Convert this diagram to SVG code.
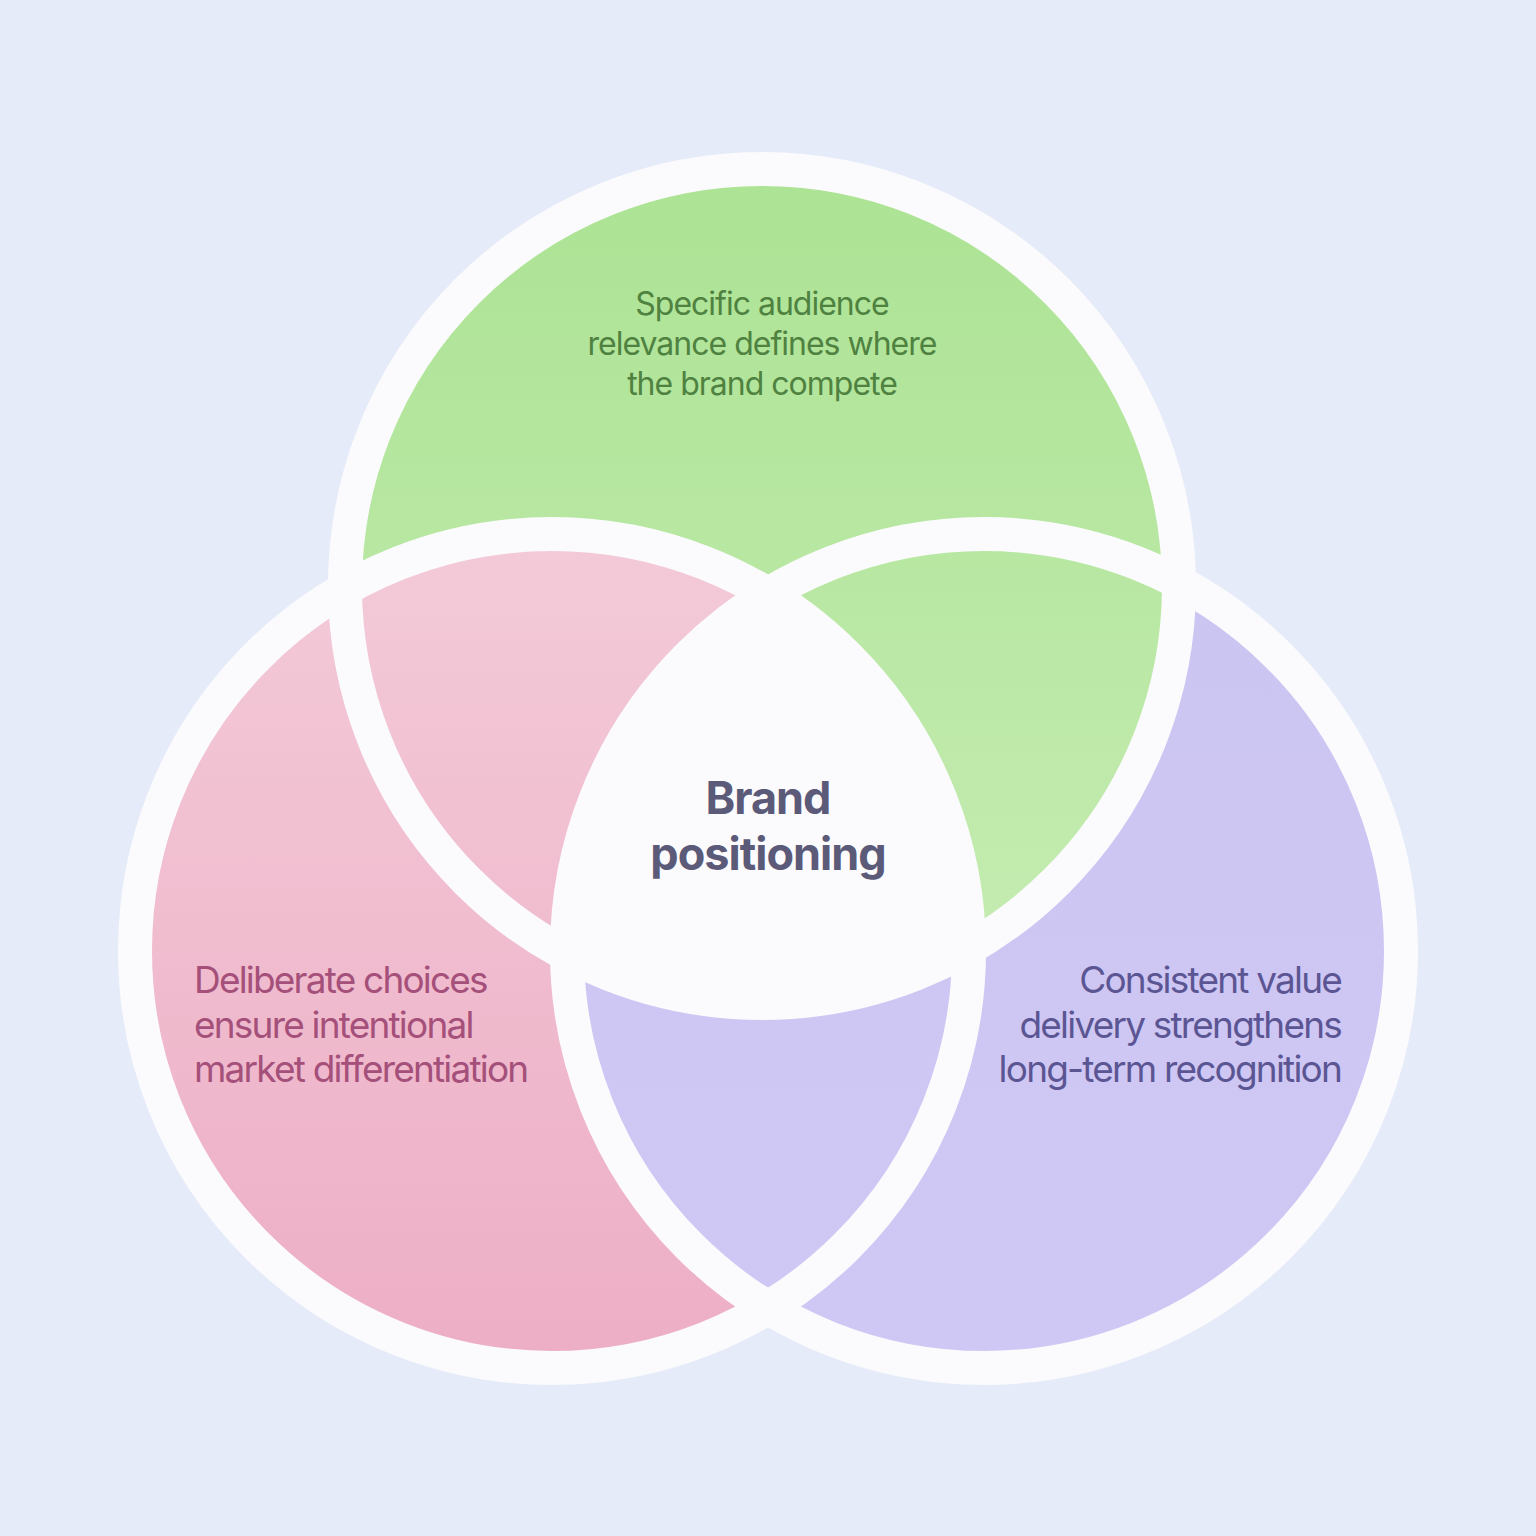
<svg xmlns="http://www.w3.org/2000/svg" width="1536" height="1536" viewBox="0 0 1536 1536">
<defs>
<linearGradient id="gG" x1="0" y1="0" x2="0" y2="1"><stop offset="0" stop-color="#ACE394"/><stop offset="1" stop-color="#C6ECB3"/></linearGradient>
<linearGradient id="gP" x1="0" y1="0" x2="0" y2="1"><stop offset="0" stop-color="#F3CAD8"/><stop offset="1" stop-color="#EDAEC5"/></linearGradient>
<linearGradient id="gV" x1="0" y1="0" x2="0" y2="1"><stop offset="0" stop-color="#CBC5F2"/><stop offset="1" stop-color="#D0C8F4"/></linearGradient>
<clipPath id="cR"><circle cx="984" cy="951" r="417"/></clipPath>
<clipPath id="cL"><circle cx="552" cy="951" r="417"/></clipPath>
<style>
.ring{fill:none;stroke:#FBFBFD;stroke-width:34}
.t{font-family:Inter,"Liberation Sans",sans-serif;letter-spacing:-1px}
.s{letter-spacing:-1.8px}
</style>
</defs>
<rect width="1536" height="1536" fill="#E5EBF8"/>
<g id="fills">
<circle cx="762" cy="586" r="417" fill="url(#gG)"/>
<circle cx="984" cy="951" r="417" fill="url(#gV)"/>
<circle cx="552" cy="951" r="417" fill="url(#gP)"/>
<circle cx="762" cy="586" r="417" fill="url(#gG)" clip-path="url(#cR)"/>
<circle cx="984" cy="951" r="417" fill="url(#gV)" clip-path="url(#cL)"/>
<g clip-path="url(#cL)"><circle cx="762" cy="586" r="417" fill="#FBFBFD" clip-path="url(#cR)"/></g>
</g>
<g id="connectors">
<circle class="ring" cx="762" cy="586" r="417"/>
<circle class="ring" cx="552" cy="951" r="417"/>
<circle class="ring" cx="984" cy="951" r="417"/>
</g>
<g id="top" class="t" font-size="32" fill="#4F8240" text-anchor="middle">
<text x="762" y="315">Specific audience</text>
<text x="762" y="355">relevance defines where</text>
<text x="762" y="395">the brand compete</text>
</g>
<g id="left" class="t s" font-size="37" fill="#A4507A">
<text x="194" y="993">Deliberate choices</text>
<text x="194" y="1038">ensure intentional</text>
<text x="194" y="1082">market differentiation</text>
</g>
<g id="right" class="t s" font-size="37" fill="#5B5693" text-anchor="end">
<text x="1341" y="993">Consistent value</text>
<text x="1341" y="1038">delivery strengthens</text>
<text x="1341" y="1082">long-term recognition</text>
</g>
<g id="center" class="t" font-size="45" font-weight="bold" fill="#5B5A78" text-anchor="middle">
<text x="768" y="814">Brand</text>
<text x="768" y="870">positioning</text>
</g>
</svg>
